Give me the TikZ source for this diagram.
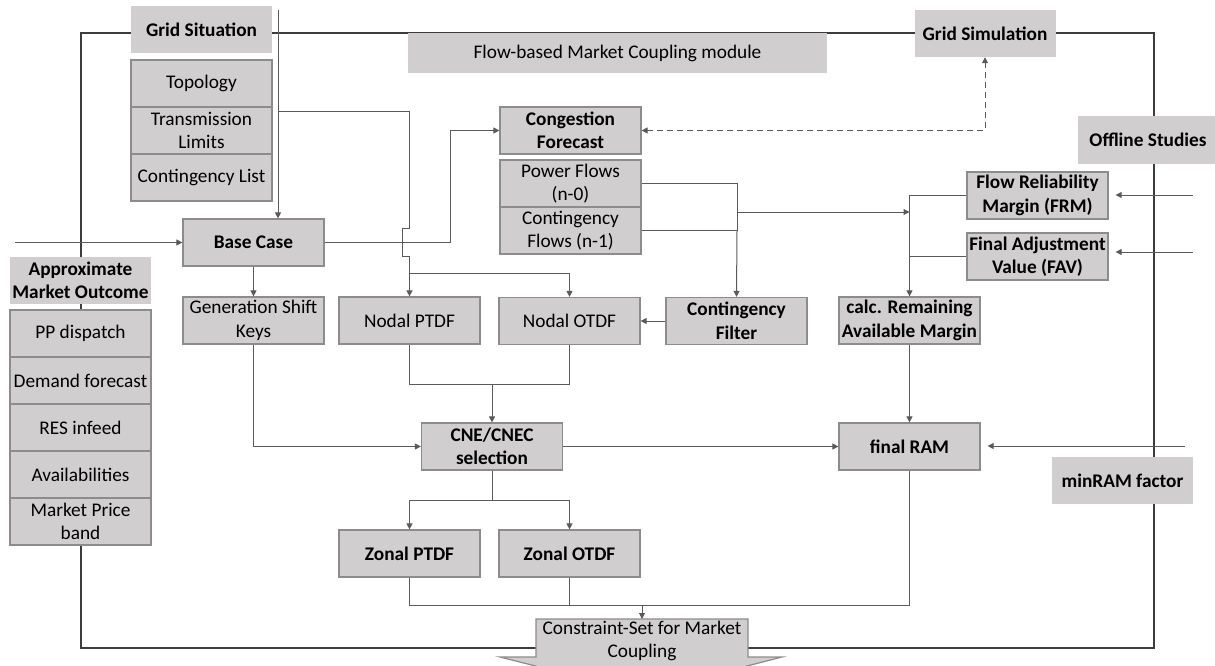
\documentclass[tikz,border=0pt]{standalone}
\usepackage{fontspec}
\setmainfont{Carlito}
\usetikzlibrary{arrows.meta,calc}
\definecolor{boxfill}{HTML}{D0CECE}
\definecolor{boxline}{HTML}{8C8C8C}
\definecolor{wirec}{HTML}{5A5A5A}
\definecolor{framec}{HTML}{3C3C3C}
\begin{document}
\begin{tikzpicture}[x=1pt,y=-1pt,
  font=\fontsize{19.3}{23.5}\selectfont,
  cell/.style={fill=boxfill,draw=boxline,line width=1.2pt,minimum width=141pt,minimum height=47pt,inner sep=1pt,align=center},
  bcell/.style={cell,font=\fontsize{19.3}{23.5}\selectfont\bfseries},
  headbox/.style={fill=boxfill,minimum width=141pt,minimum height=47pt,inner sep=1pt,align=center,font=\fontsize{19.3}{23.5}\selectfont\bfseries},
  wire/.style={draw=wirec,line width=1pt},
  arr/.style={wire,-{Triangle[length=6pt,width=6pt]}},
]
\useasboundingbox (0,0) rectangle (1215,666);
% outer frame
\draw[framec,line width=1.3pt] (81,33) rectangle (1154,648);

% header labels
\node[headbox] (gridsit) at (201.5,30) {Grid Situation};
\node[headbox] (gridsim) at (985,33.5) {Grid Simulation};
\node[headbox] (offl) at (1148,140) {Offline Studies};
\node[headbox] (minram) at (1122.5,480.5) {minRAM factor};
\node[headbox] (amo) at (80.5,280.5) {Approximate\\Market Outcome};
\node[fill=boxfill,minimum width=419pt,minimum height=40pt,inner sep=1pt] (fbmc) at (617.5,53) {Flow-based Market Coupling module};

% grid situation stack
\node[cell] (topo) at (201.5,83.5) {Topology};
\node[cell] (trans) at (201.5,130.5) {Transmission\\Limits};
\node[cell] (contl) at (201.5,177.5) {Contingency List};

% market outcome stack
\node[cell] (pp) at (80.5,333.5) {PP dispatch};
\node[cell] (dem) at (80.5,380.5) {Demand forecast};
\node[cell] (res) at (80.5,427.5) {RES infeed};
\node[cell] (avail) at (80.5,474.5) {Availabilities};
\node[cell] (mpb) at (80.5,521.5) {Market Price\\band};

% main boxes
\node[bcell] (base) at (253.5,242.5) {Base Case};
\node[cell] (gsk) at (253.5,320.5) {Generation Shift\\Keys};
\node[cell] (nptdf) at (409.5,320.5) {Nodal PTDF};
\node[cell] (notdf) at (569.5,321) {Nodal OTDF};
\node[bcell] (cfilt) at (736.5,321) {Contingency\\Filter};
\node[bcell] (cong) at (570.5,130.5) {Congestion\\Forecast};
\node[cell] (pf) at (570.5,183.5) {Power Flows\\(n-0)};
\node[cell] (cflows) at (570.5,230.5) {Contingency\\Flows (n-1)};
\node[bcell] (frm) at (1037.5,195.5) {Flow Reliability\\Margin (FRM)};
\node[bcell] (fav) at (1037.5,256.5) {Final Adjustment\\Value (FAV)};
\node[bcell] (cram) at (909.5,320.5) {calc. Remaining\\Available Margin};
\node[bcell] (fram) at (909.5,446.5) {final RAM};
\node[bcell] (cne) at (492,446.5) {CNE/CNEC\\selection};
\node[bcell] (zptdf) at (409.5,553.5) {Zonal PTDF};
\node[bcell] (zotdf) at (569.5,553.5) {Zonal OTDF};

% constraint-set output arrow shape
\path[fill=boxfill,draw=boxline,line width=1.2pt] (536,619) -- (748,619) -- (748,657) -- (782,657) -- (642,693) -- (500,657) -- (536,657) -- cycle;
\node[minimum width=212pt,minimum height=38pt,inner sep=0pt,align=center] (constr) at (642,641) {Constraint-Set for Market\\Coupling};
\coordinate (ctop) at (642,619);

% free ends
\coordinate (gsin) at (278,10);
\coordinate (amoin) at (15,242.5);
\coordinate (frmin) at (1193,195);
\coordinate (favin) at (1193,252);
\coordinate (minin) at (1185,446);

% connectors
\draw[arr] (gsin) -- (gsin |- base.north);
\draw[wire] (278,112) -- (409.5,112) -- (409.5,228) -- (402,228) -- (402,256) -- (409.5,256);
\draw[arr] (409.5,256) -- (nptdf.north);
\draw[arr] (409.5,273) -- (569.5,273) -- (notdf.north);
\draw[arr] (amoin) -- (base.west);
\draw[arr] (base.east) -- (450,242.5) -- (450,130.5) -- (cong.west);
\draw[arr] (base.south) -- (gsk.north);
\draw[wire] (pf.east) -- (737,183.5) -- (737,230.5);
\draw[wire] (cflows.east) -- (737,230.5);
\draw[arr] (737,230.5) -- (cfilt.north);
\draw[arr] (737,212) -- (909.5,212);
\draw[arr] (cfilt.west) -- (notdf.east);
\draw[wire,dashed,dash pattern=on 6pt off 4pt,{Triangle[length=6pt,width=6pt]}-{Triangle[length=6pt,width=6pt]}] (cong.east) -- (985,130.5) -- (gridsim.south);
\draw[arr] (frm.west) -- (909.5,195.5) -- (cram.north);
\draw[wire] (fav.west) -- (909.5,256.5);
\draw[arr,shorten >=7pt] (frmin) -- (frmin -| frm.east);
\draw[arr,shorten >=7pt] (favin) -- (favin -| fav.east);
\draw[arr] (cram.south) -- (fram.north);
\draw[arr,shorten >=7pt] (minin) -- (minin -| fram.east);
\draw[wire] (nptdf.south) -- (409.5,384) -- (569.5,384) -- (notdf.south);
\draw[arr] (492,384) -- (cne.north);
\draw[arr] (gsk.south) -- (253.5,446.5) -- (cne.west);
\draw[arr] (cne.east) -- (fram.west);
\draw[wire] (cne.south) -- (492,500);
\draw[arr] (492,500) -- (409.5,500) -- (zptdf.north);
\draw[arr] (492,500) -- (569.5,500) -- (zotdf.north);
\draw[wire] (zptdf.south) -- (409.5,605) -- (909.5,605) -- (fram.south);
\draw[wire] (zotdf.south) -- (569.5,605);
\draw[arr] (642,605) -- (ctop);
\end{tikzpicture}
\end{document}
